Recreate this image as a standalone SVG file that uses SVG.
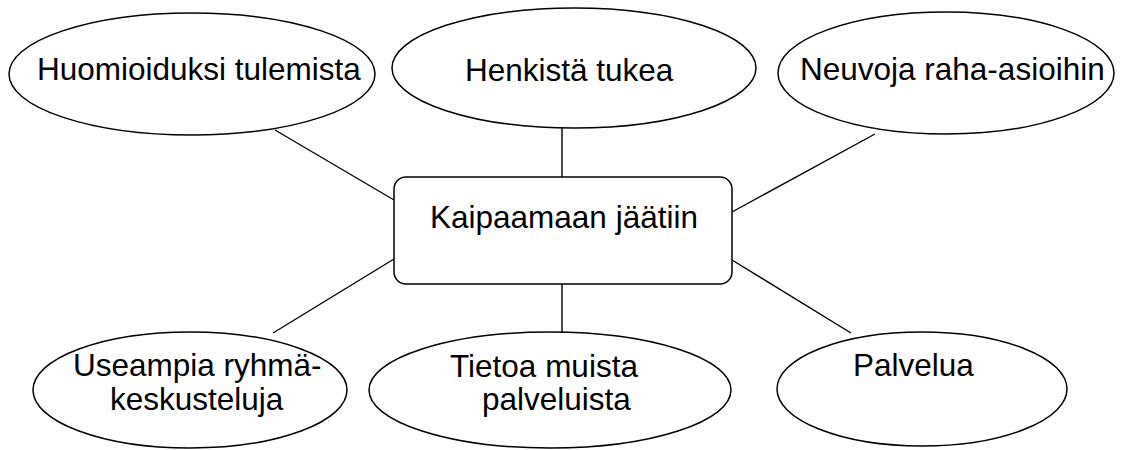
<svg xmlns="http://www.w3.org/2000/svg" width="1123" height="450" viewBox="0 0 1123 450">
  <style>
    .shape { fill: #ffffff; stroke: #000000; stroke-width: 1.5; }
    .link { stroke: #000000; stroke-width: 1.4; fill: none; }
    .label { font-family: "Liberation Sans", Arial, sans-serif; font-size: 31.5px; fill: #000000; }
  </style>
  <rect width="1123" height="450" fill="#ffffff"/>

  <!-- connectors between the centre box and the surrounding ellipses -->
  <g id="connectors">
    <line class="link" x1="275" y1="130" x2="394" y2="200"/>
    <line class="link" x1="562" y1="128" x2="562" y2="177"/>
    <line class="link" x1="875" y1="134" x2="732" y2="212"/>
    <line class="link" x1="394" y1="259" x2="273" y2="333"/>
    <line class="link" x1="562" y1="284" x2="562" y2="332"/>
    <line class="link" x1="732" y1="260" x2="851" y2="333"/>
  </g>

  <g id="node-huomioiduksi">
    <ellipse class="shape" cx="192" cy="74" rx="183" ry="61"/>
    <text class="label" x="37" y="80">Huomioiduksi tulemista</text>
  </g>

  <g id="node-henkista">
    <ellipse class="shape" cx="574" cy="68" rx="182" ry="60"/>
    <text class="label" x="465" y="81">Henkistä tukea</text>
  </g>

  <g id="node-neuvoja">
    <ellipse class="shape" cx="946" cy="73" rx="168" ry="61"/>
    <text class="label" x="800" y="80">Neuvoja raha-asioihin</text>
  </g>

  <g id="node-center">
    <rect class="shape" x="394" y="177" width="338" height="107" rx="12" ry="12"/>
    <text class="label" x="430" y="228">Kaipaamaan jäätiin</text>
  </g>

  <g id="node-useampia">
    <ellipse class="shape" cx="190" cy="390" rx="157" ry="58"/>
    <text class="label" x="73" y="376">Useampia ryhmä-</text>
    <text class="label" x="110" y="410">keskusteluja</text>
  </g>

  <g id="node-tietoa">
    <ellipse class="shape" cx="550" cy="390" rx="181" ry="58"/>
    <text class="label" x="450" y="377">Tietoa muista</text>
    <text class="label" x="482" y="410">palveluista</text>
  </g>

  <g id="node-palvelua">
    <ellipse class="shape" cx="922" cy="389" rx="145" ry="57"/>
    <text class="label" x="853" y="376">Palvelua</text>
  </g>
</svg>
